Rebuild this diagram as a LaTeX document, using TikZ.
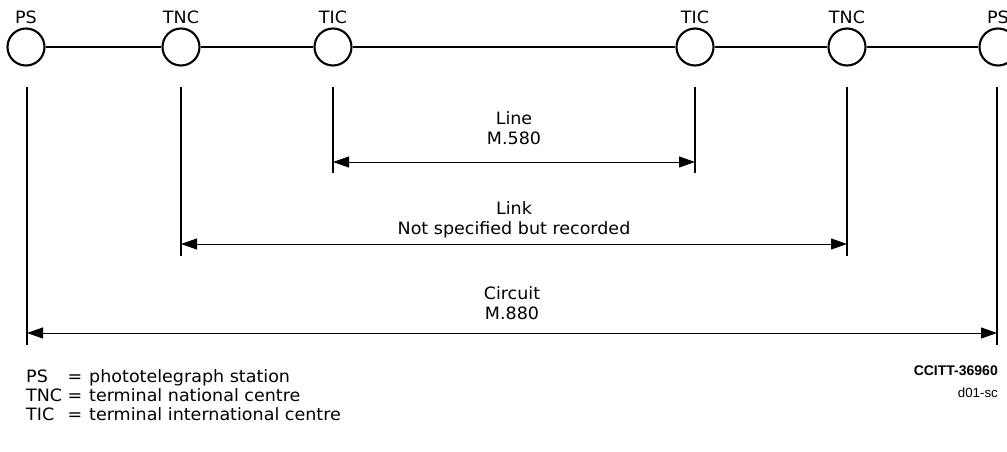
\documentclass[tikz,border=0pt]{standalone}
\usepackage{fontspec}
\setmainfont[FakeStretch=1.03]{DejaVu Sans}
\newfontfamily\tagfont{Liberation Sans}
\usetikzlibrary{arrows.meta}

\newcommand{\diafont}{\fontsize{17pt}{20pt}\selectfont}

\tikzset{
  station/.style={circle,draw,line width=2.1pt,minimum size=37pt,inner sep=0pt},
  extline/.style={line width=1.3pt},
  dimline/.style={line width=0.9pt,{Triangle[length=16pt,width=11pt]}-{Triangle[length=16pt,width=11pt]}},
  caption/.style={align=center,anchor=base,inner sep=0pt},
  legend/.style={anchor=base west,inner sep=0pt},
  every label/.style={inner sep=0pt},
}

\begin{document}
\begin{tikzpicture}[x=1pt,y=1pt,font=\diafont,label distance=4pt]
  \useasboundingbox (0,0) rectangle (1007,-452);

  % stations
  \node[station,label={above:PS}]  (psL)  at (26,-47)  {};
  \node[station,label={above:TNC}] (tncL) at (181,-47) {};
  \node[station,label={above:TIC}] (ticL) at (333,-47) {};
  \node[station,label={above:TIC}] (ticR) at (695,-47) {};
  \node[station,label={above:TNC}] (tncR) at (847,-47) {};
  \node[station,label={above:PS}]  (psR)  at (998,-47) {};

  % chain
  \draw[line width=2.6pt] (psL) -- (tncL) -- (ticL) -- (ticR) -- (tncR) -- (psR);

  % extension lines
  \coordinate (ticL-t) at (333,-87);  \coordinate (ticL-b) at (333,-173);
  \coordinate (ticR-t) at (695,-87);  \coordinate (ticR-b) at (695,-173);
  \coordinate (tncL-t) at (181,-87);  \coordinate (tncL-b) at (181,-256);
  \coordinate (tncR-t) at (847,-87);  \coordinate (tncR-b) at (847,-256);
  \coordinate (psL-t)  at (27,-87);   \coordinate (psL-b)  at (27,-345);
  \coordinate (psR-t)  at (997,-87);  \coordinate (psR-b)  at (997,-345);
  \foreach \s in {ticL,ticR,tncL,tncR,psL,psR}
    \draw[extline] (\s-t) -- (\s-b);

  % dimension arrows
  \coordinate (ticL-d) at (333,-162);  \coordinate (ticR-d) at (695,-162);
  \coordinate (tncL-d) at (181,-244);  \coordinate (tncR-d) at (847,-244);
  \coordinate (psL-d)  at (27,-333);   \coordinate (psR-d)  at (997,-333);
  \draw[dimline] (ticL-d) -- (ticR-d);
  \draw[dimline] (tncL-d) -- (tncR-d);
  \draw[dimline] (psL-d) -- (psR-d);

  % captions (base = last line)
  \node[caption] (line)    at (514,-144) {Line\\M.580};
  \node[caption] (link)    at (514,-234) {Link\\Not specified but recorded};
  \node[caption] (circuit) at (512,-319) {Circuit\\M.880};

  % reference
  \node[anchor=base east,inner sep=0pt,font=\tagfont\fontsize{14pt}{16pt}\selectfont\bfseries]
    (ccitt) at (998,-375) {CCITT-36960};
  \node[anchor=base east,inner sep=0pt,font=\tagfont\fontsize{13.3pt}{16pt}\selectfont]
    (code) at (998,-397) {d01-sc};

  % legend
  \node[legend] (kPS)  at (26,-382) {PS};
  \node[legend] (kTNC) at (26,-401) {TNC};
  \node[legend] (kTIC) at (26,-420) {TIC};
  \node[anchor=base,inner sep=0pt] (ePS)  at (75,-382) {=};
  \node[anchor=base,inner sep=0pt] (eTNC) at (75,-401) {=};
  \node[anchor=base,inner sep=0pt] (eTIC) at (75,-420) {=};
  \node[legend] (dPS)  at (89,-382) {phototelegraph station};
  \node[legend] (dTNC) at (89,-401) {terminal national centre};
  \node[legend] (dTIC) at (89,-420) {terminal international centre};
\end{tikzpicture}
\end{document}
